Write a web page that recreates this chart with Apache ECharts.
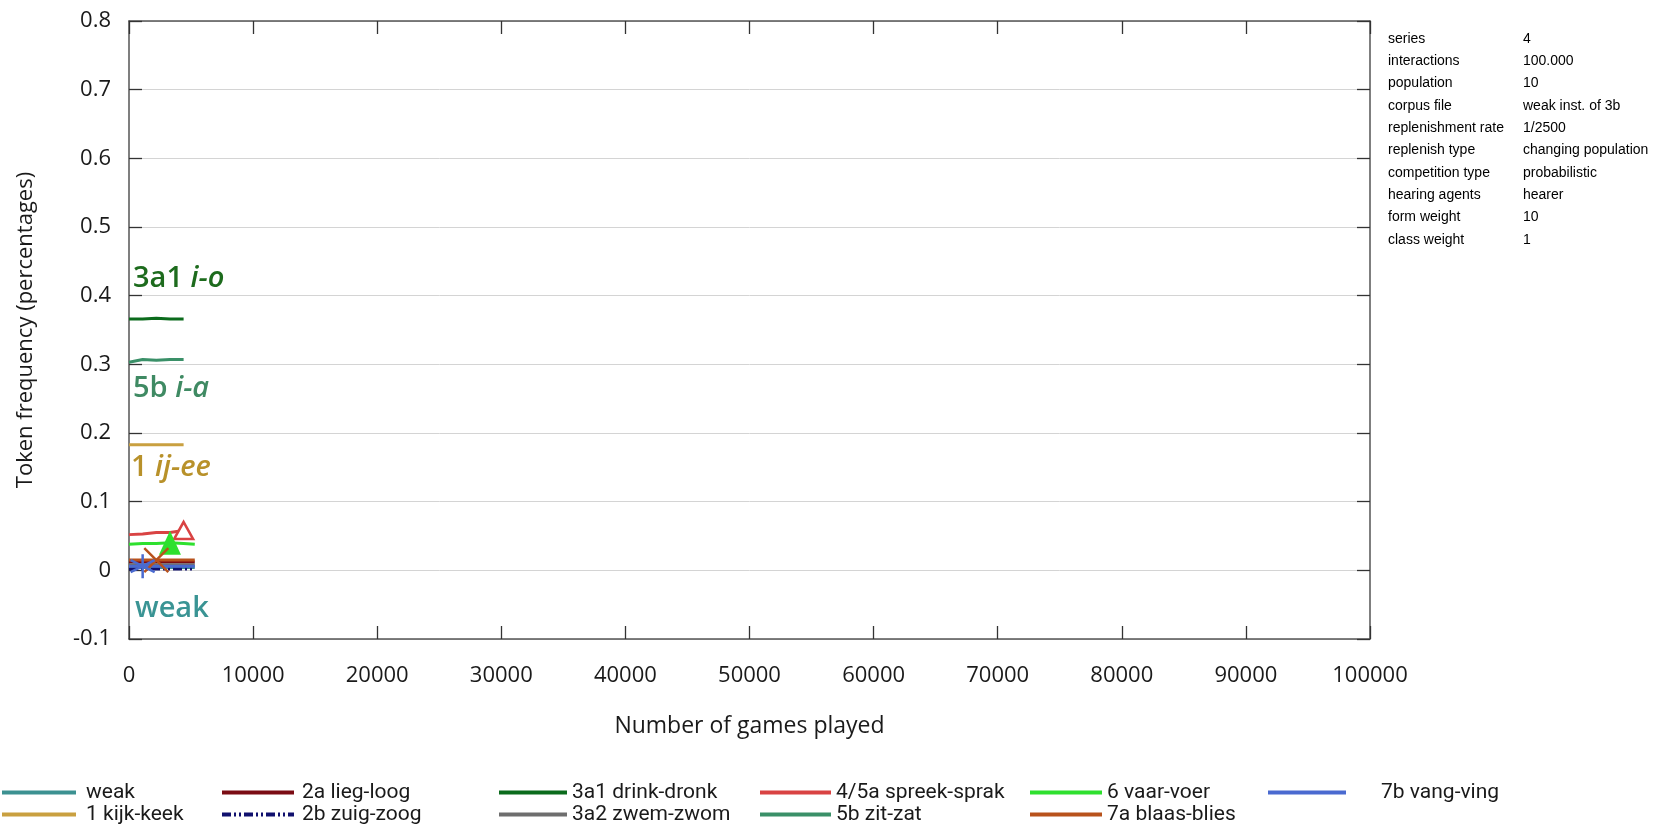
<!DOCTYPE html>
<html>
<head>
<meta charset="utf-8">
<script src="https://cdn.jsdelivr.net/npm/echarts@6/dist/echarts.min.js"></script>
<style>
  html, body { margin: 0; padding: 0; background: #fff; }
  #chart { width: 1668px; height: 824px; }
</style>
</head>
<body>
<div id="chart"></div>
<script>
// games played (x) for every series
const xGames = [0, 1100, 2200, 3300, 4400, 5300];

// token frequency per series
const weak = [0.004, 0.004, 0.004, 0.004, 0.004, 0.004];
const kijkKeek = [0.183, 0.183, 0.183, 0.183, 0.183, null];
const liegLoog = [0.012, 0.012, 0.012, 0.012, 0.012, 0.012];
const zuigZoog = [0.002, 0.002, 0.002, 0.002, 0.002, 0.002];
const drinkDronk = [0.366, 0.366, 0.367, 0.366, 0.366, null];
const zwemZwom = [0.008, 0.008, 0.008, 0.008, 0.008, 0.008];
const spreekSprak = [0.052, 0.053, 0.055, 0.055, 0.058, null];
const zitZat = [0.303, 0.307, 0.306, 0.307, 0.307, null];
const vaarVoer = [0.038, 0.039, 0.039, 0.040, 0.039, 0.038];
const blaasBlies = [0.015, 0.015, 0.015, 0.015, 0.015, 0.015];
const vangVing = [0.006, 0.006, 0.006, 0.006, 0.006, 0.006];

// axis ticks
const yTicks = { min: -0.1, max: 0.8, step: 0.1 };
const xTicks = { min: 0, max: 100000, step: 10000 };

// run parameters shown top right
const infoKeys = ['series', 'interactions', 'population', 'corpus file', 'replenishment rate',
  'replenish type', 'competition type', 'hearing agents', 'form weight', 'class weight'];
const infoVals = ['4', '100.000', '10', 'weak inst. of 3b', '1/2500',
  'changing population', 'probabilistic', 'hearer', '10', '1'];

const chartEle = document.getElementById('chart');
const myChart = echarts.init(chartEle);

const legendFont = "Roboto, 'Liberation Sans', sans-serif";
const sans = "'Open Sans', 'Noto Sans', sans-serif";

// 线条与图例
const seriesDefs = [
  { name: 'weak', data: weak, color: '#3c9191' },
  { name: '1 kijk-keek', data: kijkKeek, color: '#c9a040' },
  { name: '2a lieg-loog', data: liegLoog, color: '#7b0c14' },
  { name: '2b zuig-zoog', data: zuigZoog, color: '#10106e', dash: [9, 3, 2, 3, 2, 3] },
  { name: '3a1 drink-dronk', data: drinkDronk, color: '#0b6b1c' },
  { name: '3a2 zwem-zwom', data: zwemZwom, color: '#6e6e6e' },
  { name: '4/5a spreek-sprak', data: spreekSprak, color: '#d94343',
    mark: { idx: 4, symbol: 'triangle', size: [19, 17], hollow: true } },
  { name: '5b zit-zat', data: zitZat, color: '#3a9068' },
  { name: '6 vaar-voer', data: vaarVoer, color: '#2ee02e',
    mark: { idx: 3, symbol: 'triangle', size: [22, 24] } },
  { name: '7a blaas-blies', data: blaasBlies, color: '#b8521c',
    mark: { idx: 2, symbol: 'path://M0,0L10,10M10,0L0,10', size: 24, stroke: true } },
  { name: '7b vang-ving', data: vangVing, color: '#4a6ad0',
    mark: { idx: 1, symbol: 'path://M5,0L5,10M0.67,2.5L9.33,7.5M0.67,7.5L9.33,2.5', size: 24, stroke: true } }
];

const series = seriesDefs.map(def => {
  const data = xGames.map((x, i) => {
    if (def.data[i] === null) return [x, null];
    const item = { value: [x, def.data[i]] };
    if (def.mark && def.mark.idx === i) {
      item.symbol = def.mark.symbol;
      item.symbolSize = def.mark.size;
      if (def.mark.hollow) {
        item.itemStyle = { color: '#fff', borderColor: def.color, borderWidth: 2.5, opacity: 1 };
      } else if (def.mark.stroke) {
        item.itemStyle = { color: 'none', borderColor: def.color, borderWidth: 2.5, opacity: 1 };
      } else {
        item.itemStyle = { color: def.color, opacity: 1 };
      }
    }
    return item;
  });
  return {
    name: def.name,
    type: 'line',
    symbol: 'none',
    showSymbol: true,
    color: def.color,
    lineStyle: { width: 3, color: def.color, type: def.dash || 'solid' },
    emphasis: { disabled: true },
    animation: false,
    z: 3,
    data: data
  };
});

// 图例: 六列两行, 每项单独一个 legend
const legendCols = [
  { names: ['weak', '1 kijk-keek'], left: 0, w: 74, pad: 5 },
  { names: ['2a lieg-loog', '2b zuig-zoog'], left: 220, w: 72, pad: 3 },
  { names: ['3a1 drink-dronk', '3a2 zwem-zwom'], left: 497, w: 68, pad: 0 },
  { names: ['4/5a spreek-sprak', '5b zit-zat'], left: 758, w: 71, pad: 0 },
  { names: ['6 vaar-voer', '7a blaas-blies'], left: 1028, w: 72, pad: 0 },
  { names: ['7b vang-ving'], left: 1266, w: 78, pad: 30 }
];
const legendRowTop = [782, 804];
const legend = [];
legendCols.forEach(col => {
  col.names.forEach((name, r) => {
    legend.push({
      data: [name],
      left: col.left,
      top: legendRowTop[r],
      padding: 0,
      itemWidth: col.w,
      itemHeight: 10,
      selectedMode: false,
      lineStyle: { width: 4 },
      itemStyle: { opacity: 0 },
      textStyle: {
        fontFamily: legendFont,
        fontSize: 21,
        color: '#1a1a1a',
        padding: [0, 0, 0, col.pad]
      }
    });
  });
});

// 图内标注
const plotLabels = [
  { n: '3a1 ', i: 'i-o', color: '#1d6b1d', x: 133, y: 280 },
  { n: '5b ', i: 'i-a', color: '#3f8a63', x: 133, y: 390 },
  { n: '1 ', i: 'ij-ee', color: '#b8912a', x: 131, y: 469 },
  { n: 'weak', i: '', color: '#3a9494', x: 135, y: 610 }
];
const graphic = plotLabels.map(l => ({
  type: 'text',
  left: l.x,
  top: l.y - 16,
  z: 10,
  style: {
    text: '{n|' + l.n + '}' + (l.i ? '{i|' + l.i + '}' : ''),
    rich: {
      n: { fontFamily: sans, fontSize: 29, fill: l.color, fontWeight: 600 },
      i: { fontFamily: sans, fontSize: 29, fill: l.color, fontStyle: 'italic', fontWeight: 600 }
    }
  }
}));
infoKeys.forEach((k, i) => {
  const y = 32 + i * 22.3;
  graphic.push({ type: 'text', left: 1388, top: y,
    style: { text: k, fontFamily: "'Liberation Sans', Arial, sans-serif", fontSize: 14, fill: '#000' } });
  graphic.push({ type: 'text', left: 1523, top: y,
    style: { text: infoVals[i], fontFamily: "'Liberation Sans', Arial, sans-serif", fontSize: 14, fill: '#000' } });
});

const frameLine = { show: true, onZero: false, lineStyle: { color: '#555', width: 1.5 } };
const inTick = { show: true, inside: true, length: 13, lineStyle: { color: '#333', width: 1.3 } };

const option = {
  backgroundColor: '#fff',
  animation: false,
  grid: { left: 129, top: 21, right: 298, bottom: 185, containLabel: false },
  legend: legend,
  graphic: graphic,
  xAxis: [
    {
      type: 'value',
      min: xTicks.min,
      max: xTicks.max,
      interval: xTicks.step,
      position: 'bottom',
      name: 'Number of games played',
      nameLocation: 'middle',
      nameGap: 76,
      nameTextStyle: { fontFamily: sans, fontSize: 23, color: '#1a1a1a' },
      axisLine: frameLine,
      axisTick: inTick,
      splitLine: { show: false },
      axisLabel: {
        margin: 26,
        fontFamily: sans,
        fontSize: 22,
        color: '#1a1a1a',
        formatter: v => String(v)
      }
    },
    {
      type: 'value',
      min: xTicks.min,
      max: xTicks.max,
      interval: xTicks.step,
      position: 'top',
      axisLine: frameLine,
      axisTick: inTick,
      splitLine: { show: false },
      axisLabel: { show: false }
    }
  ],
  yAxis: [
    {
      type: 'value',
      min: yTicks.min,
      max: yTicks.max,
      interval: yTicks.step,
      position: 'left',
      name: 'Token frequency (percentages)',
      nameLocation: 'middle',
      nameGap: 92,
      nameTextStyle: { fontFamily: sans, fontSize: 22, color: '#1a1a1a' },
      axisLine: frameLine,
      axisTick: inTick,
      splitLine: { show: true, lineStyle: { color: '#d4d4d4', width: 1 } },
      axisLabel: {
        margin: 18,
        fontFamily: sans,
        fontSize: 22,
        color: '#1a1a1a',
        formatter: v => String(+v.toFixed(1))
      }
    },
    {
      type: 'value',
      min: yTicks.min,
      max: yTicks.max,
      interval: yTicks.step,
      position: 'right',
      axisLine: frameLine,
      axisTick: inTick,
      splitLine: { show: false },
      axisLabel: { show: false }
    }
  ],
  series: series
};
myChart.setOption(option);
</script>
</body>
</html>
